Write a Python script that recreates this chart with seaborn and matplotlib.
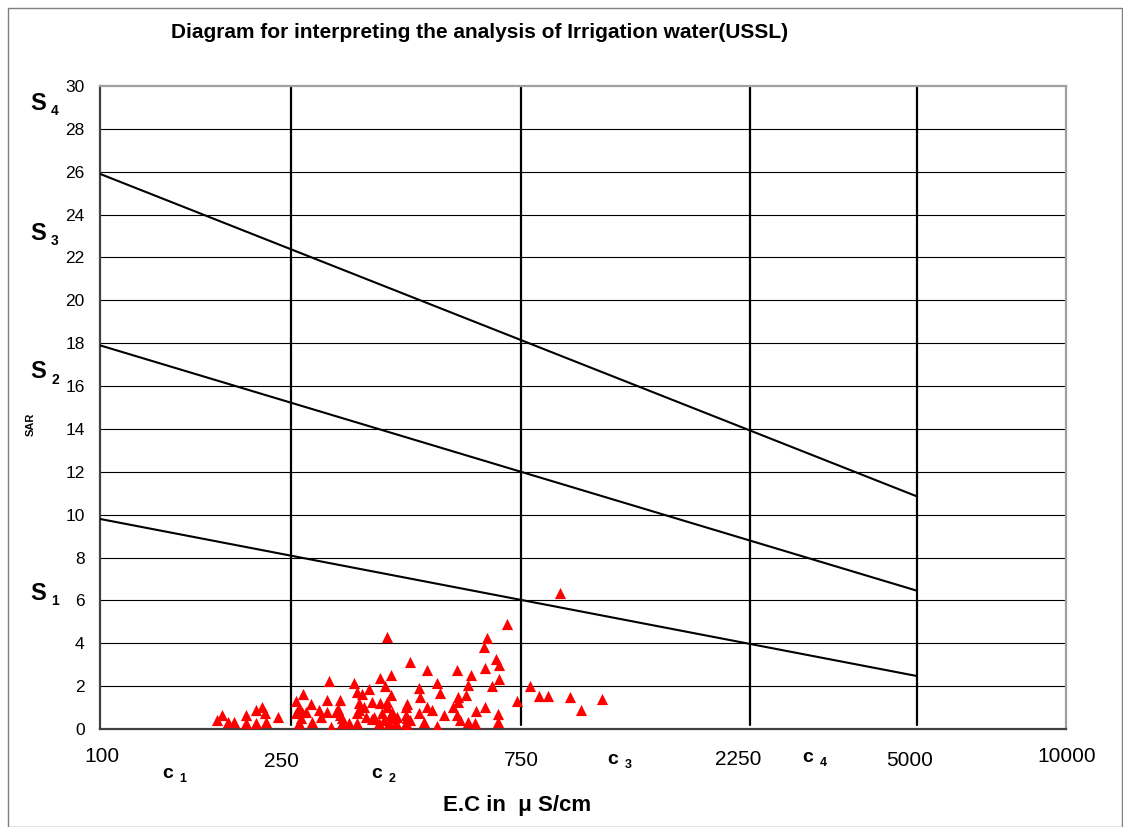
import matplotlib
matplotlib.use("Agg")
import matplotlib.pyplot as plt
import matplotlib.transforms as mtrans
from matplotlib.patches import Rectangle
import seaborn as sns
import pandas as pd

# ---------------- data ----------------
ec = [179, 175, 185, 190, 201, 201, 211, 211, 217, 220, 221, 234,
      256, 264, 259, 255, 262, 259, 268, 275, 276, 285, 288, 296, 299, 297, 302,
      309, 316, 316, 319, 329, 337, 343, 345, 350, 343, 354, 343, 357, 363, 367,
      371, 382, 391, 402, 395, 383, 402, 386, 395, 405, 380, 389, 408, 415, 435,
      435, 435, 442, 460, 463, 460, 471, 478, 478, 490, 502, 510, 502, 518, 543,
      552, 556, 556, 552, 578, 583, 590, 561, 583, 602, 606,
      432, 432, 432, 442, 628, 637, 633, 633, 652, 665, 676, 676, 671, 671, 703,
      738, 783, 818, 854, 903, 949, 1001, 1105,
      312, 319, 345, 368, 402, 398, 412, 395, 263]
sar = [0.65, 0.42, 0.34, 0.34, 0.65, 0.30, 0.89, 0.30, 1.04, 0.73, 0.34, 0.57,
       1.32, 1.63, 0.97, 0.73, 0.50, 0.27, 0.81, 1.17, 0.34, 0.89, 0.57, 1.35, 2.22, 0.81, 0.11,
       0.81, 1.35, 0.65, 0.27, 0.27, 2.13, 1.74, 1.20, 1.63, 0.73, 1.04, 0.27, 0.57, 1.85, 1.27,
       0.57, 2.37, 2.01, 2.52, 4.31, 1.20, 1.59, 0.73, 1.04, 0.81, 0.27, 0.42, 0.50, 0.57, 1.17,
       0.50, 0.19, 3.14, 1.90, 1.51, 0.73, 0.34, 2.75, 1.04, 0.89, 2.13, 1.67, 0.15, 0.65, 1.04,
       2.75, 1.51, 1.27, 0.65, 1.59, 2.05, 2.52, 0.42, 0.34, 0.27, 0.85,
       1.04, 0.65, 0.27, 0.42, 3.83, 4.23, 2.83, 1.04, 2.01, 3.25, 2.99, 2.33, 0.70, 0.31, 4.89,
       1.31, 2.01, 1.55, 1.55, 6.33, 1.51, 0.89, 1.38,
       0.93, 0.50, 0.89, 0.47, 0.65, 0.27, 0.27, 1.27, 0.81]

boundary_ec = [100, 5000]
s1_s2 = [9.8, 2.47]
s2_s3 = [17.9, 6.45]
s3_s4 = [25.9, 10.85]
class_ec = [250, 750, 2250, 5000]
xtick_vals = [100, 250, 750, 2250, 5000, 10000]
xtick_labels = ["100", "250", "750", "2250", "5000", "10000"]
ytick_vals = list(range(0, 31, 2))
s_labels = [("S", "4"), ("S", "3"), ("S", "2"), ("S", "1")]
c_labels = [("c", "1"), ("c", "2"), ("c", "3"), ("c", "4")]

# ---------------- style ----------------
sns.set_style("white")
plt.rcParams["font.family"] = ["Liberation Sans", "DejaVu Sans"]
plt.rcParams["text.color"] = "black"
plt.rcParams["xtick.color"] = "black"
plt.rcParams["ytick.color"] = "black"
plt.rcParams["axes.labelcolor"] = "black"

W, H = 1123, 827
fig = plt.figure(figsize=(W / 100, H / 100), dpi=100)
ax = fig.add_axes([100 / W, (H - 729) / H, (1066 - 100) / W, (729 - 86) / H])

# figure border
fig.patches.append(Rectangle((8 / W, 0), (1122 - 8) / W, (H - 8) / H, transform=fig.transFigure,
                             fill=False, edgecolor="#7f7f7f", linewidth=1.0, zorder=0))

ax.set_xscale("log")
ax.set_xlim(100, 10200)
ax.set_ylim(0, 30)

# horizontal gridlines
for yv in ytick_vals[1:-1]:
    ax.axhline(yv, color="black", linewidth=0.8, zorder=1)

# class boundary verticals
for xv in class_ec:
    ax.plot([xv, xv], [0.2, 30], color="black", linewidth=1.6, zorder=2)

# sodium hazard boundary lines
df_lines = pd.DataFrame({
    "EC": boundary_ec * 3,
    "SAR": s1_s2 + s2_s3 + s3_s4,
    "line": ["a", "a", "b", "b", "c", "c"],
})
sns.lineplot(data=df_lines, x="EC", y="SAR", units="line", estimator=None,
             color="black", linewidth=1.5, ax=ax, zorder=3)

# samples
df = pd.DataFrame({"EC": ec, "SAR": sar})
sns.scatterplot(data=df, x="EC", y="SAR", marker="^", color="#ff0000", s=65,
                linewidth=0, ax=ax, zorder=4)

# axes styling
ax.set_xlabel("")
ax.set_ylabel("")
ax.set_yticks(ytick_vals)
ax.set_yticklabels([str(v) for v in ytick_vals], fontsize=12.5)
ax.tick_params(axis="y", direction="out", length=5, width=1, color="#404040", pad=6)
ax.set_xticks(xtick_vals)
ax.set_xticklabels(xtick_labels, fontsize=15)
ax.xaxis.set_minor_locator(matplotlib.ticker.NullLocator())
ax.tick_params(axis="x", length=0, pad=16)
# per-label offsets (pixels) like the free-placed labels of the original
x_off = [2, -10, 1, -12, -7, 5]
y_off = [4, -1, 0, 1, 0, 4]
for lab, dx, dy in zip(ax.get_xticklabels(), x_off, y_off):
    lab.set_transform(lab.get_transform() + mtrans.ScaledTranslation(dx / 100, dy / 100, fig.dpi_scale_trans))

for side in ["left", "bottom"]:
    ax.spines[side].set_color("#404040")
    ax.spines[side].set_linewidth(1.6)
for side in ["top", "right"]:
    ax.spines[side].set_color("#a0a0a0")
    ax.spines[side].set_linewidth(1.6)

# texts
def fx(px):
    return px / W

def fy(py):
    return (H - py) / H

fig.text(fx(480), fy(33), "Diagram for interpreting the analysis of Irrigation water(USSL)",
         ha="center", va="center", fontsize=15, fontweight="bold")

s_pos = [103, 233, 372, 593]
for (main, sub), py in zip(s_labels, s_pos):
    fig.text(fx(38), fy(py), main, ha="center", va="center", fontsize=17, fontweight="bold")
    fig.text(fx(55), fy(py + 8), sub, ha="center", va="center", fontsize=10, fontweight="bold")

c_pos = [(168, 773), (377, 773), (613, 759), (808, 757)]
for (main, sub), (px, py) in zip(c_labels, c_pos):
    fig.text(fx(px), fy(py), main, ha="center", va="center", fontsize=14, fontweight="bold")
    fig.text(fx(px + 15), fy(py + 6), sub, ha="center", va="center", fontsize=9, fontweight="bold")

fig.text(fx(31), fy(424), "SAR", ha="center", va="center", rotation=90, fontsize=8, fontweight="bold")
fig.text(fx(517), fy(806), "E.C in  \u03bc S/cm", ha="center", va="center", fontsize=16, fontweight="bold")

fig.savefig("out.png", dpi=100)
